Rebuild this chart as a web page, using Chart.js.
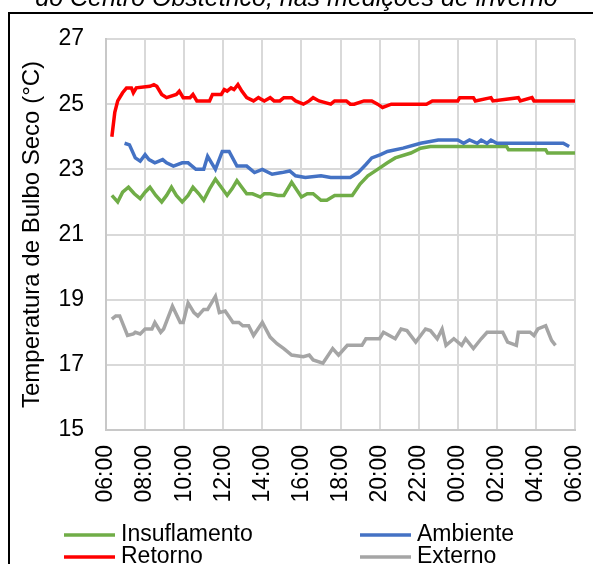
<!DOCTYPE html>
<html>
<head>
<meta charset="utf-8">
<script src="https://cdn.jsdelivr.net/npm/chart.js@4/dist/chart.umd.min.js"></script>
<style>
  html, body { margin: 0; padding: 0; background: #fff; overflow: hidden; }
  body { width: 593px; height: 564px; position: relative; font-family: "Liberation Sans", Arial, sans-serif; }
  #frame { position: absolute; left: 8px; top: 12px; width: 600px; height: 600px; border: 2px solid #000; box-sizing: border-box; }
  #caption { position: absolute; left: 0; width: 593px; top: -15px; line-height: 25px; font-size: 25px; font-style: italic; text-align: center; white-space: nowrap; color: #000; }
  #chart { position: absolute; left: 0; top: 0; }
</style>
</head>
<body>
<div id="frame"></div>
<canvas id="chart" width="593" height="564"></canvas>
<div id="caption">do Centro Obstétrico, nas medições de inverno</div>
<script>
// hours elapsed since 06:00
const insufHours = [0.3, 0.6, 0.85, 1.15, 1.45, 1.75, 2.0, 2.25, 2.55, 2.85, 3.1, 3.35, 3.6, 3.9, 4.2, 4.45, 4.75, 5.0, 5.3, 5.6, 5.9, 6.2, 6.45, 6.7, 6.95, 7.2, 7.5, 7.9, 8.1, 8.4, 8.8, 9.1, 9.5, 10.0, 10.3, 10.6, 11.0, 11.3, 11.7, 12.6, 13.0, 13.4, 13.9, 14.4, 14.8, 15.6, 16.1, 16.6, 20.5, 20.6, 22.5, 22.6, 24.0];
const insufTemp = [22.2, 22.0, 22.3, 22.45, 22.25, 22.1, 22.3, 22.45, 22.2, 22.0, 22.2, 22.45, 22.2, 22.0, 22.2, 22.45, 22.25, 22.05, 22.4, 22.7, 22.45, 22.2, 22.4, 22.65, 22.45, 22.25, 22.25, 22.15, 22.25, 22.25, 22.2, 22.2, 22.6, 22.15, 22.25, 22.25, 22.05, 22.05, 22.2, 22.2, 22.55, 22.8, 23.0, 23.2, 23.35, 23.5, 23.65, 23.7, 23.7, 23.6, 23.6, 23.5, 23.5];

const ambHours = [0.95, 1.2, 1.5, 1.75, 2.0, 2.2, 2.5, 2.9, 3.1, 3.45, 3.9, 4.2, 4.6, 5.0, 5.2, 5.6, 5.95, 6.3, 6.7, 7.2, 7.6, 8.0, 8.5, 9.0, 9.4, 9.7, 10.2, 11.0, 11.5, 12.0, 12.5, 12.9, 13.3, 13.6, 14.05, 14.4, 15.2, 16.1, 17.0, 18.0, 18.3, 18.6, 19.0, 19.2, 19.5, 19.7, 20.0, 20.5, 23.4, 23.7];
const ambTemp = [23.8, 23.75, 23.35, 23.25, 23.45, 23.3, 23.2, 23.3, 23.2, 23.1, 23.2, 23.2, 23.0, 23.0, 23.4, 23.0, 23.55, 23.55, 23.1, 23.1, 22.9, 23.0, 22.85, 22.9, 22.95, 22.8, 22.75, 22.8, 22.75, 22.75, 22.75, 22.9, 23.15, 23.35, 23.45, 23.55, 23.65, 23.8, 23.9, 23.9, 23.8, 23.9, 23.8, 23.9, 23.8, 23.9, 23.8, 23.8, 23.8, 23.7];

const retHours = [0.3, 0.45, 0.6, 0.85, 1.05, 1.3, 1.4, 1.55, 2.25, 2.45, 2.6, 2.85, 3.1, 3.6, 3.75, 3.95, 4.3, 4.45, 4.65, 5.3, 5.45, 5.9, 6.05, 6.2, 6.4, 6.55, 6.75, 6.95, 7.2, 7.55, 7.8, 8.1, 8.4, 8.6, 8.9, 9.1, 9.5, 9.7, 10.1, 10.4, 10.6, 10.9, 11.5, 11.7, 12.3, 12.5, 12.7, 13.2, 13.6, 13.9, 14.15, 14.6, 16.4, 16.7, 16.9, 18.0, 18.1, 18.8, 18.9, 19.7, 19.8, 21.1, 21.2, 21.8, 21.9, 24.0];
const retTemp = [24.0, 24.75, 25.1, 25.35, 25.5, 25.5, 25.35, 25.5, 25.55, 25.6, 25.55, 25.3, 25.2, 25.3, 25.4, 25.2, 25.2, 25.3, 25.1, 25.1, 25.3, 25.3, 25.45, 25.4, 25.5, 25.45, 25.6, 25.4, 25.2, 25.1, 25.2, 25.1, 25.2, 25.1, 25.1, 25.2, 25.2, 25.1, 25.0, 25.1, 25.2, 25.1, 25.0, 25.1, 25.1, 25.0, 25.0, 25.1, 25.1, 25.0, 24.9, 25.0, 25.0, 25.1, 25.1, 25.1, 25.2, 25.2, 25.1, 25.2, 25.1, 25.2, 25.1, 25.2, 25.1, 25.1];

const extHours = [0.3, 0.5, 0.7, 1.1, 1.4, 1.5, 1.75, 2.0, 2.35, 2.5, 2.8, 2.95, 3.4, 3.8, 3.95, 4.2, 4.5, 4.7, 5.0, 5.2, 5.4, 5.6, 5.8, 6.1, 6.5, 6.8, 7.0, 7.3, 7.55, 8.0, 8.4, 8.75, 9.1, 9.5, 10.1, 10.4, 10.6, 11.1, 11.6, 11.9, 12.35, 13.1, 13.3, 14.0, 14.2, 14.5, 14.8, 15.1, 15.4, 15.85, 16.35, 16.6, 16.95, 17.2, 17.4, 17.8, 18.2, 18.4, 18.8, 19.2, 19.5, 20.3, 20.55, 21.0, 21.1, 21.7, 21.9, 22.1, 22.5, 22.8, 23.0];
const extTemp = [18.4, 18.5, 18.5, 17.9, 17.95, 18.0, 17.95, 18.1, 18.1, 18.3, 18.0, 18.1, 18.8, 18.3, 18.3, 18.9, 18.6, 18.5, 18.7, 18.7, 18.9, 19.1, 18.6, 18.65, 18.3, 18.3, 18.2, 18.2, 17.9, 18.3, 17.85, 17.65, 17.5, 17.3, 17.25, 17.3, 17.15, 17.05, 17.5, 17.3, 17.6, 17.6, 17.8, 17.8, 18.0, 17.9, 17.8, 18.1, 18.05, 17.7, 18.1, 18.05, 17.8, 18.1, 17.6, 17.8, 17.6, 17.8, 17.5, 17.8, 18.0, 18.0, 17.7, 17.6, 18.0, 18.0, 17.9, 18.1, 18.2, 17.75, 17.6];

const seriesNames = ['Insuflamento', 'Ambiente', 'Retorno', 'Externo'];
const seriesColors = ['#70ad47', '#4472c4', '#ff0000', '#a5a5a5'];
const yTitle = 'Temperatura de Bulbo Seco (°C)';

const FONT = '"Liberation Sans", Arial, sans-serif';
const pts = (xs, ys) => xs.map((x, i) => ({ x, y: ys[i] }));
const clock = (h) => `${String((6 + h) % 24).padStart(2, '0')}:00`;

const series = [
  pts(insufHours, insufTemp),
  pts(ambHours, ambTemp),
  pts(retHours, retTemp),
  pts(extHours, extTemp)
];

// two-column legend under the axis
const legendCols = [64, 360];
const legendRows = [535, 557];
const bottomLegend = {
  id: 'bottomLegend',
  afterDraw(chart) {
    const ctx = chart.ctx;
    ctx.save();
    chart.data.datasets.forEach((ds, i) => {
      const x = legendCols[i % 2], y = legendRows[Math.floor(i / 2)];
      ctx.strokeStyle = ds.borderColor; ctx.lineWidth = 3.5;
      ctx.beginPath(); ctx.moveTo(x, y); ctx.lineTo(x + 51, y); ctx.stroke();
      ctx.fillStyle = '#000'; ctx.font = `23px ${FONT}`; ctx.textBaseline = 'alphabetic';
      ctx.fillText(ds.label, x + 57, y + 6);
    });
    ctx.restore();
  }
};

new Chart(document.getElementById('chart'), {
  type: 'line',
  data: {
    datasets: series.map((data, i) => ({
      label: seriesNames[i], data,
      borderColor: seriesColors[i], backgroundColor: seriesColors[i],
      borderWidth: 3.5, pointRadius: 0, tension: 0, order: 4 - i
    }))
  },
  options: {
    responsive: false, animation: false,
    layout: { padding: { left: 10, top: 39, right: 18, bottom: 0 } },
    plugins: { legend: { display: false }, tooltip: { enabled: false } },
    scales: {
      x: {
        type: 'linear', min: 0, max: 24,
        ticks: { stepSize: 2, minRotation: 90, maxRotation: 90, padding: 15, color: '#000', font: { family: FONT, size: 23 }, callback: (v) => clock(v) },
        grid: { color: '#d9d9d9', lineWidth: 2, drawTicks: false },
        border: { color: '#c8c8c8', width: 2 },
        afterFit: (s) => { s.height = 134; s.paddingLeft = 0; s.paddingRight = 0; }
      },
      y: {
        min: 15, max: 27,
        ticks: { stepSize: 2, padding: 22, color: '#000', font: { family: FONT, size: 23 } },
        grid: { color: '#d9d9d9', lineWidth: 2, drawTicks: false },
        border: { color: '#c8c8c8', width: 2 },
        title: { display: true, text: yTitle, color: '#000', font: { family: FONT, size: 24 }, padding: { top: 8, bottom: 0 } },
        afterFit: (s) => { s.width = 96; s.paddingTop = 0; s.paddingBottom = 0; }
      }
    }
  },
  plugins: [bottomLegend]
});
</script>
</body>
</html>
